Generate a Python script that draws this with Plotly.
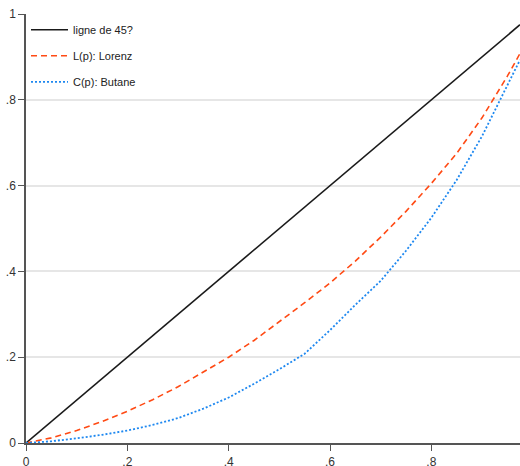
import plotly.graph_objects as go

p = [0.0, 0.05, 0.10, 0.15, 0.20, 0.25, 0.30, 0.35, 0.40, 0.45, 0.50,
     0.55, 0.60, 0.65, 0.70, 0.75, 0.80, 0.85, 0.90, 0.95, 0.975]
line45 = list(p)
lorenz = [0.0, 0.012, 0.029, 0.050, 0.074, 0.101, 0.131, 0.165, 0.200, 0.239, 0.282,
          0.327, 0.373, 0.424, 0.480, 0.540, 0.605, 0.675, 0.758, 0.855, 0.908]
butane = [0.0, 0.004, 0.011, 0.019, 0.029, 0.042, 0.058, 0.080, 0.106, 0.138, 0.172,
          0.208, 0.263, 0.322, 0.378, 0.448, 0.525, 0.613, 0.715, 0.834, 0.893]

names = ["ligne de 45?", "L(p): Lorenz", "C(p): Butane"]
xticks = [0, 0.2, 0.4, 0.6, 0.8]
xticklabels = ["0", ".2", ".4", ".6", ".8"]
yticks = [0, 0.2, 0.4, 0.6, 0.8, 1.0]
yticklabels = ["0", ".2", ".4", ".6", ".8", "1"]

FONT = "Liberation Sans Narrow, Arial Narrow, Liberation Sans, Arial, sans-serif"

fig = go.Figure()
fig.add_trace(go.Scatter(x=p, y=line45, mode="lines", name=names[0], legendgroup="a",
                         line=dict(color="#1a1a1a", width=1.6)))
fig.add_trace(go.Scatter(x=p, y=lorenz, mode="lines", name=names[1], legendgroup="b",
                         line=dict(color="#ff4a14", width=1.6, dash="6px,4px")))
fig.add_trace(go.Scatter(x=p, y=butane, mode="lines", name=names[2], legendgroup="c",
                         line=dict(color="#1e88f0", width=1.8, dash="2px,2px")))

fig.update_layout(
    width=520, height=466,
    margin=dict(l=26, r=0, t=14, b=23, autoexpand=False),
    paper_bgcolor="white", plot_bgcolor="white",
    font=dict(family=FONT, size=12, color="#333"),
    showlegend=True,
    legend=dict(x=0.0, y=0.997, xanchor="left", yanchor="top",
                bgcolor="rgba(255,255,255,0)", font=dict(size=11, color="#222"),
                traceorder="grouped", tracegroupgap=7, itemwidth=37),
    xaxis=dict(range=[0, 0.975], tickvals=xticks, ticktext=xticklabels,
               showgrid=False, zeroline=False, showline=True, linecolor="#555",
               linewidth=1.5, ticks="outside", ticklen=6, tickcolor="#555",
               ticklabelstandoff=1,
               automargin=False, tickfont=dict(size=12, color="#333")),
    yaxis=dict(range=[0, 1.0], tickvals=yticks, ticktext=yticklabels,
               showgrid=True, gridcolor="#e6e6e6", gridwidth=1.5, zeroline=False,
               showline=True, linecolor="#555", linewidth=1.5, ticks="outside",
               ticklen=6, tickcolor="#555", automargin=False,
               tickfont=dict(size=12, color="#333")),
)

fig.write_html("out.html", config={"displayModeBar": False},
               post_script="document.body.style.margin='0';document.body.style.overflow='hidden';")
